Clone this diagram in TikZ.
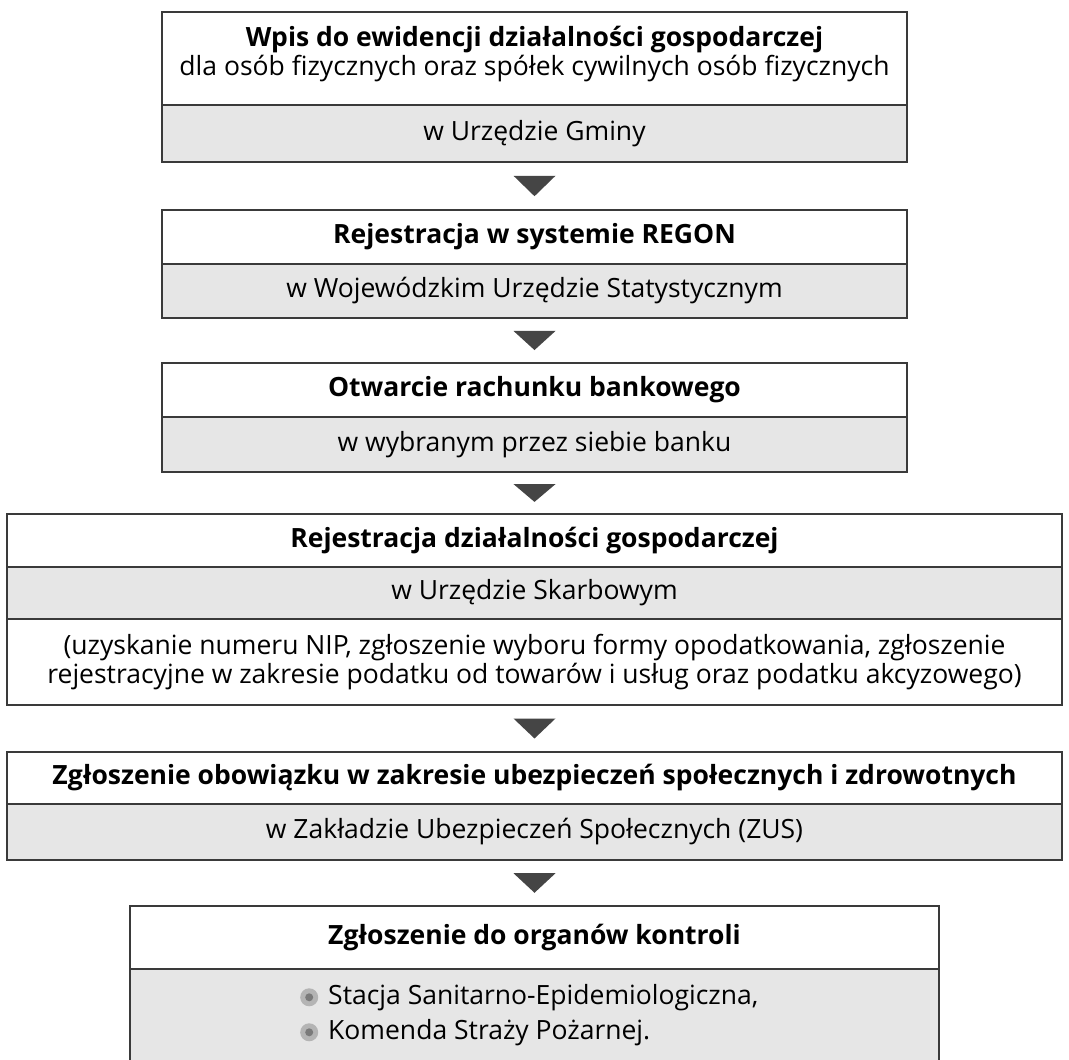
\documentclass[tikz,border=0pt]{standalone}
\usepackage{fontspec}
\setmainfont{Open Sans}
\usetikzlibrary{calc}
\definecolor{rowgray}{HTML}{E6E6E6}
\definecolor{edgecol}{HTML}{3A3A3A}
\definecolor{tricol}{HTML}{454545}
\definecolor{bulout}{HTML}{B4B4B4}
\definecolor{bulin}{HTML}{7A7A7A}
\tikzset{
  rowbox/.style={draw=edgecol, line width=1.6pt, fill=white, inner sep=0pt, align=center,
    font=\fontsize{26.5}{29}\selectfont},
  grayrow/.style={rowbox, fill=rowgray},
  rowtext/.style={inner sep=0pt, align=center, font=\fontsize{26.5}{29}\selectfont},
  tritip/.style={fill=tricol},
}
\newcommand{\bul}{\tikz[baseline=-0.5ex]{\fill[bulout] (0,0) circle (9pt); \fill[bulin] (0,0) circle (4pt);}}
\begin{document}
\begin{tikzpicture}[x=1pt,y=-1pt]
\useasboundingbox[fill=white] (0,0) rectangle (1069,1060);
% Box 1
\node[rowbox, minimum width=745, minimum height=93] (b1t) at (534.5,58.5) {};
\node[rowtext] (b1tx) at (534.5,54)
  {\textbf{Wpis do ewidencji działalności gospodarczej}\\dla osób fizycznych oraz spółek cywilnych osób fizycznych};
\node[grayrow, minimum width=745, minimum height=57] (b1g) at (534.5,133.5) {w Urzędzie Gminy};
% Box 2
\node[rowbox, minimum width=745, minimum height=54] (b2t) at (534.5,237) {\textbf{Rejestracja w systemie REGON}};
\node[grayrow, minimum width=745, minimum height=54] (b2g) at (534.5,291) {w Wojewódzkim Urzędzie Statystycznym};
% Box 3
\node[rowbox, minimum width=745, minimum height=54] (b3t) at (534.5,390) {\textbf{Otwarcie rachunku bankowego}};
\node[grayrow, minimum width=745, minimum height=55] (b3g) at (534.5,444.5) {w wybranym przez siebie banku};
% Box 4
\node[rowbox, minimum width=1055, minimum height=53] (b4t) at (534.5,540.5) {\textbf{Rejestracja działalności gospodarczej}};
\node[grayrow, minimum width=1055, minimum height=52] (b4g) at (534.5,593) {w Urzędzie Skarbowym};
\node[rowbox, minimum width=1055, minimum height=86] (b4n) at (534.5,662)
  {(uzyskanie numeru NIP, zgłoszenie wyboru formy opodatkowania, zgłoszenie\\rejestracyjne w zakresie podatku od towarów i usług oraz podatku akcyzowego)};
% Box 5
\node[rowbox, minimum width=1055, minimum height=52] (b5t) at (534.5,778) {\textbf{Zgłoszenie obowiązku w zakresie ubezpieczeń społecznych i zdrowotnych}};
\node[grayrow, minimum width=1055, minimum height=56] (b5g) at (534.5,832) {w Zakładzie Ubezpieczeń Społecznych (ZUS)};
% Box 6
\node[rowbox, minimum width=809, minimum height=63] (b6t) at (534.5,937.5) {\textbf{Zgłoszenie do organów kontroli}};
\node[grayrow, minimum width=809, minimum height=95] (b6g) at (534.5,1016.5) {};
\node[anchor=west, inner sep=0pt, align=left, font=\fontsize{26.5}{35}\selectfont] (b6l) at (300,1015)
  {\bul\hspace{10pt}Stacja Sanitarno-Epidemiologiczna,\\\bul\hspace{10pt}Komenda Straży Pożarnej.};
% Arrows (triangles)
\foreach \a/\b in {b1g/b2t,b2g/b3t,b3g/b4t,b4n/b5t,b5g/b6t}{
  \fill[tritip] ($(\a.south)!0.28!(\b.north)+(-21,0)$) -- ($(\a.south)!0.28!(\b.north)+(21,0)$)
     -- ($(\a.south)!0.72!(\b.north)$) -- cycle;
}
\end{tikzpicture}
\end{document}
